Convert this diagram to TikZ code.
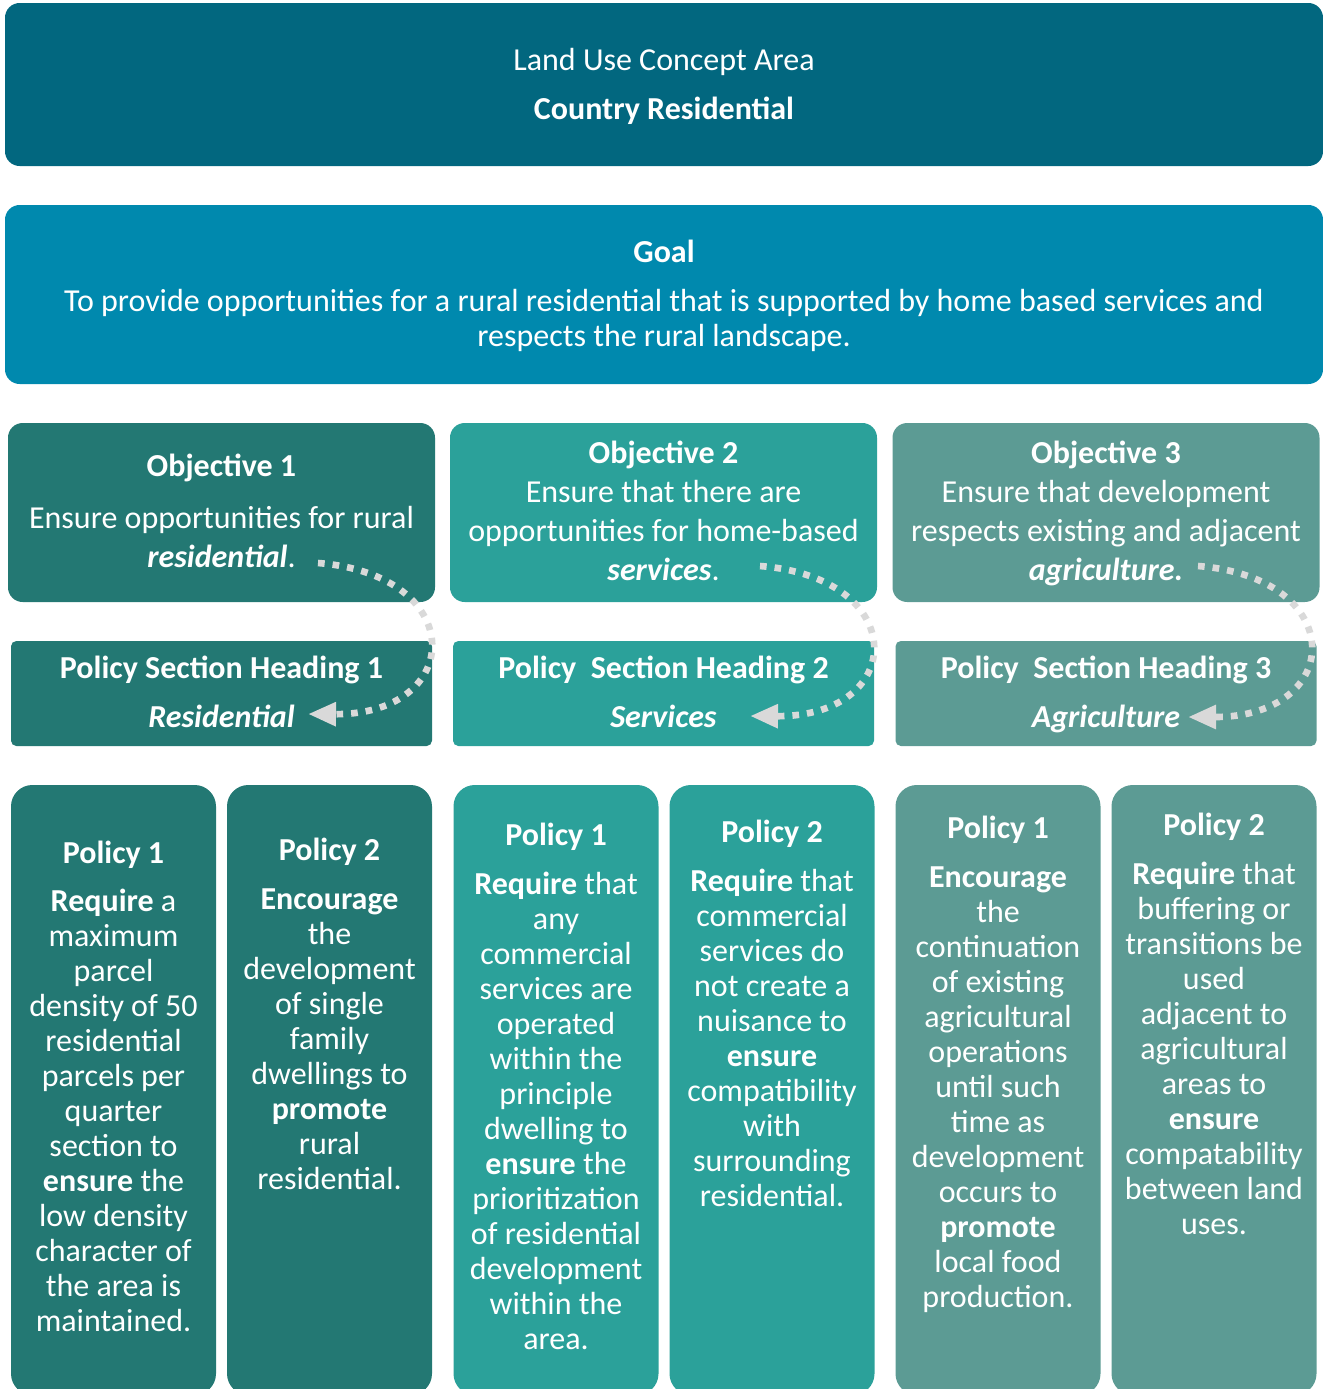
\documentclass[tikz,border=0pt]{standalone}
\usepackage{fontspec}
\setmainfont{Carlito}
\usetikzlibrary{arrows.meta}
\usepackage{xcolor}
\definecolor{hdblue}{HTML}{02677F}
\definecolor{goalblue}{HTML}{0089AE}
\definecolor{colone}{HTML}{237873}
\definecolor{coltwo}{HTML}{2BA19A}
\definecolor{colthree}{HTML}{5C9B94}
\definecolor{dotgray}{HTML}{D9D9D9}
\newcommand{\bodyfont}{\fontsize{24}{26.25}\selectfont}
\newcommand{\objfont}{\fontsize{24}{29.25}\selectfont}
\tikzset{
    box/.style={
        rounded corners=11pt,
        inner sep=0pt,
        outer sep=0pt
    },
    txt/.style={
        text=white,
        align=center,
        inner sep=0pt,
        font=\bodyfont
    },
    loopback/.style={
        draw=dotgray,
        line width=5pt,
        dash pattern=on 5pt off 6pt,
        -{Triangle[length=21pt,width=17pt]}
    }
}
\newcommand{\objbox}[5] {
    \node[box,fill={#3},minimum width=320.25pt,minimum height=134.25pt] (#2) at ({#1}, 512.5) {};
    \node[txt,font=\objfont,anchor=north] (#2t) at ({#1}, {#4}) {#5};
}
\newcommand{\headbox}[4] {
    \node[box,fill={#3},rounded corners=4pt,minimum width=315.75pt,minimum height=78.75pt] (#2) at ({#1}, 693.5) {};
    \node[txt,anchor=north] (#2t) at ({#1}, 656) {#4};
}
\newcommand{\polbox}[5] {
    \node[box,fill={#3},rounded corners=16pt,minimum width=153.75pt,minimum height=457.5pt] (#2) at ({#1}, 1090) {};
    \node[txt,anchor=north] (#2t) at ({#1}, {#4}) {#5};
}
\begin{document}
\begin{tikzpicture}[x=0.75pt,y=-0.75pt]
    \useasboundingbox (0,0) rectangle (1323,1389);
    \clip (0,0) rectangle (1323,1389);
    \node[box,fill=hdblue,minimum width=988.5pt,minimum height=122.25pt] (area) at (664, 84.5) {};
    \node[txt,anchor=north] (areat) at (664, 48) {Land Use Concept Area\\[10.5pt] \textbf{Country Residential}};
    \node[box,fill=goalblue,minimum width=988.5pt,minimum height=134.25pt] (goal) at (664, 294.5) {};
    \node[txt,anchor=north] (goalt) at (664, 240) {\textbf{Goal}\\[10.5pt]
        To provide opportunities for a rural residential that is supported by home based services and\\
        respects the rural landscape.};
    \objbox{221.5}{obja}{colone}{454}{\textbf{Objective 1}\\[9.75pt] Ensure opportunities for rural\\ \textbf{\textit{residential}}.}
    \objbox{663.5}{objb}{coltwo}{441}{\textbf{Objective 2}\\ Ensure that there are\\ opportunities for home-based\\ \textbf{\textit{services}}.}
    \objbox{1106}{objc}{colthree}{441}{\textbf{Objective 3}\\ Ensure that development\\ respects existing and adjacent\\ \textbf{\textit{agriculture.}}}
    \headbox{221.5}{psha}{colone}{\textbf{Policy Section Heading 1}\\[10.5pt] \textbf{\textit{Residential}}}
    \headbox{663.5}{pshb}{coltwo}{\textbf{Policy\ \ Section Heading 2}\\[10.5pt] \textbf{\textit{Services}}}
    \headbox{1106}{pshc}{colthree}{\textbf{Policy\ \ Section Heading 3}\\[10.5pt] \textbf{\textit{Agriculture}}}
    \polbox{113.5}{polaa}{colone}{841}{\textbf{Policy 1}\\[9.75pt] \textbf{Require} a\\ maximum\\ parcel\\ density of 50\\ residential\\ parcels per\\ quarter\\ section to\\ \textbf{ensure} the\\ low density\\ character of\\ the area is\\ maintained.}
    \polbox{329.5}{polab}{colone}{838}{\textbf{Policy 2}\\[10.5pt] \textbf{Encourage}\\ the\\ development\\ of single\\ family\\ dwellings to\\ \textbf{promote}\\ rural\\ residential.}
    \polbox{556}{polba}{coltwo}{823}{\textbf{Policy 1}\\[10.5pt] \textbf{Require} that\\ any\\ commercial\\ services are\\ operated\\ within the\\ principle\\ dwelling to\\ \textbf{ensure} the\\ prioritization\\ of residential\\ development\\ within the\\ area.}
    \polbox{772}{polbb}{coltwo}{820}{\textbf{Policy 2}\\[10.5pt] \textbf{Require} that\\ commercial\\ services do\\ not create a\\ nuisance to\\ \textbf{ensure}\\ compatibility\\ with\\ surrounding\\ residential.}
    \polbox{998}{polca}{colthree}{816}{\textbf{Policy 1}\\[10.5pt] \textbf{Encourage}\\ the\\ continuation\\ of existing\\ agricultural\\ operations\\ until such\\ time as\\ development\\ occurs to\\ \textbf{promote}\\ local food\\ production.}
    \polbox{1214}{polcb}{colthree}{813}{\textbf{Policy 2}\\[10.5pt] \textbf{Require} that\\ buffering or\\ transitions be\\ used\\ adjacent to\\ agricultural\\ areas to\\ \textbf{ensure}\\ compatability\\ between land\\ uses.}
    \coordinate (sa) at (318, 563);
    \coordinate (ea) at (308, 714);
    \coordinate (sb) at (760, 566);
    \coordinate (eb) at (750, 716);
    \coordinate (sc) at (1198, 566);
    \coordinate (ec) at (1188, 717);
    \draw[loopback] (sa) .. controls (470, 575) and (465, 715) .. (ea);
    \draw[loopback] (sb) .. controls (912, 578) and (907, 717) .. (eb);
    \draw[loopback] (sc) .. controls (1350, 578) and (1345, 717) .. (ec);
\end{tikzpicture}
\end{document}
